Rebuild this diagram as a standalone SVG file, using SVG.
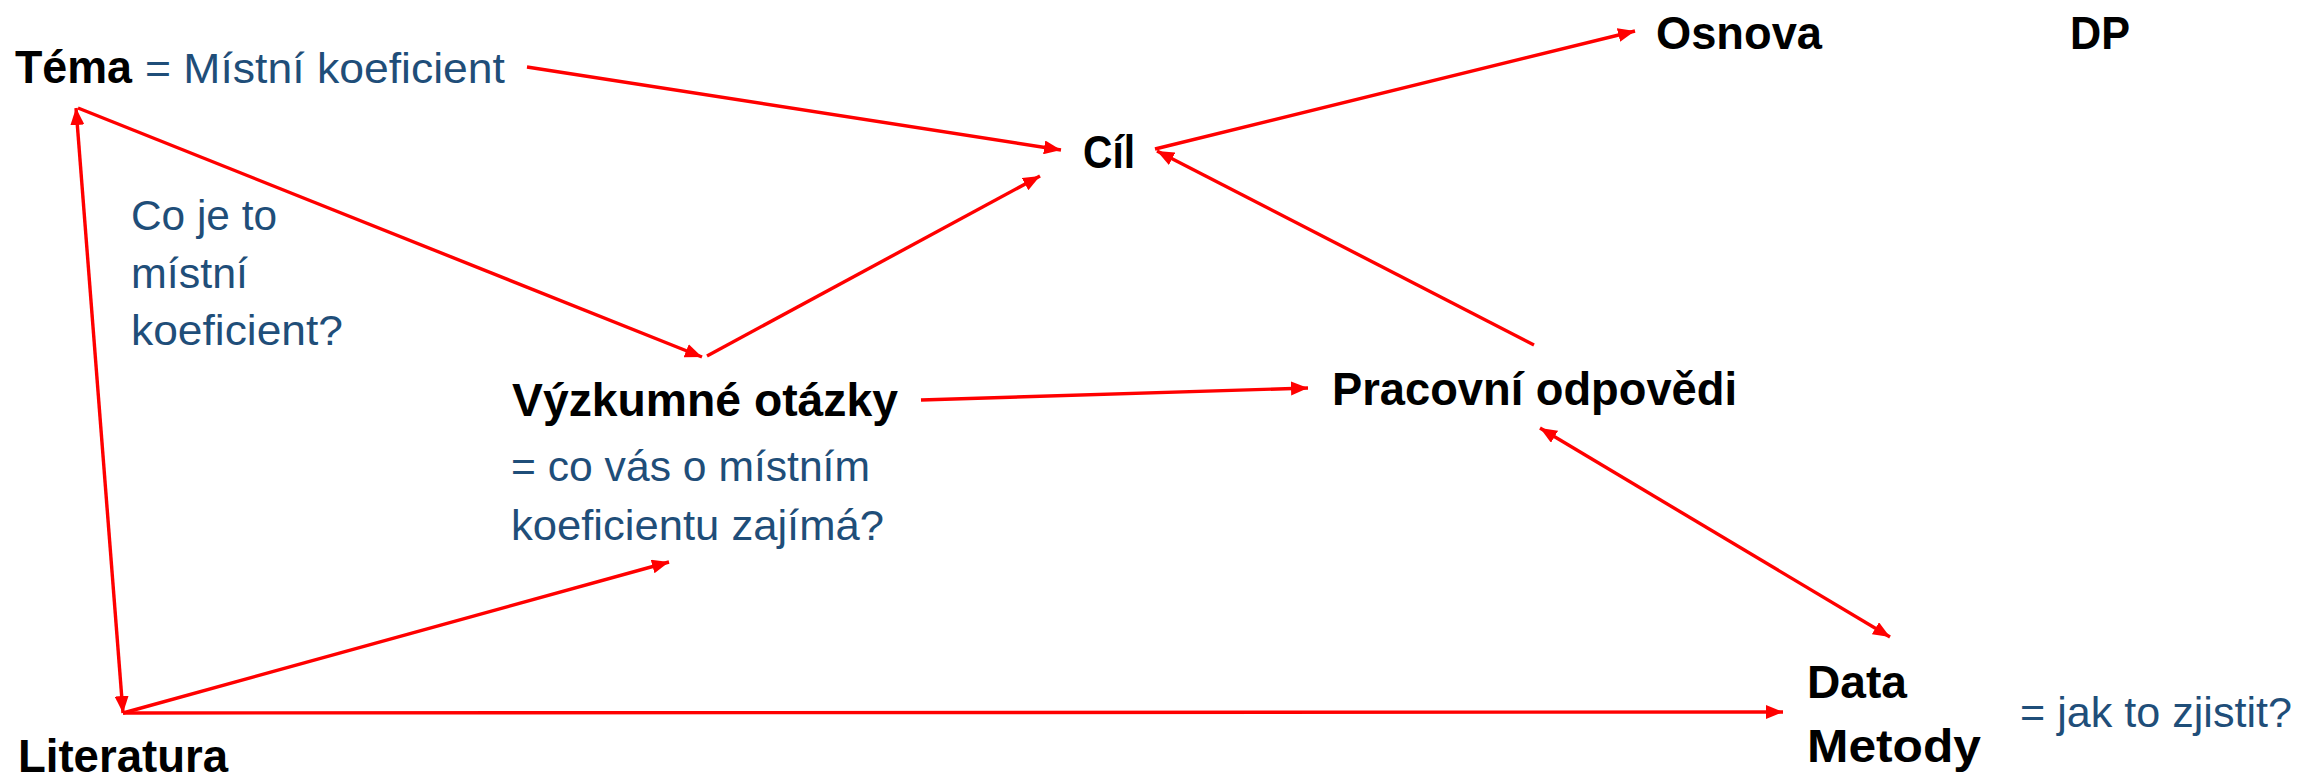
<svg xmlns="http://www.w3.org/2000/svg" width="2302" height="779" viewBox="0 0 2302 779">
<style>
.b{font-family:"Liberation Sans",Arial,sans-serif;font-weight:bold;font-size:46px;fill:#000}
.r{font-family:"Liberation Sans",Arial,sans-serif;font-size:43px;fill:#1F4E79}
.c{stroke:#FF0000;stroke-width:3.4;fill:none;marker-end:url(#ah)}
.d{marker-start:url(#ah)}
</style>
<defs>
<marker id="ah" markerUnits="userSpaceOnUse" markerWidth="18" markerHeight="14" refX="17" refY="7" orient="auto-start-reverse">
<path d="M0,0 L17,7 L0,14 z" fill="#FF0000"/>
</marker>
</defs>
<rect width="2302" height="779" fill="#fff"/>
<g id="connectors">
<line class="c" x1="527" y1="67" x2="1061" y2="150"/>
<line class="c" x1="1155" y1="149" x2="1635" y2="31"/>
<line class="c" x1="1534" y1="345" x2="1157" y2="151"/>
<line class="c" x1="707" y1="356" x2="1040" y2="176"/>
<line class="c" x1="78" y1="108" x2="702" y2="357"/>
<line class="c d" x1="76" y1="108" x2="123" y2="713"/>
<line class="c" x1="123" y1="713" x2="669" y2="562"/>
<line class="c" x1="123" y1="713" x2="1783" y2="712"/>
<line class="c" x1="921" y1="400" x2="1308" y2="388"/>
<line class="c d" x1="1540" y1="428" x2="1890" y2="637"/>
</g>
<g id="tema">
<text class="b" x="15" y="83" textLength="117" lengthAdjust="spacingAndGlyphs">Téma</text>
<text class="r" x="145" y="83" textLength="360" lengthAdjust="spacingAndGlyphs">= Místní koeficient</text>
</g>
<g id="cil"><text class="b" x="1083" y="168" textLength="52" lengthAdjust="spacingAndGlyphs">Cíl</text></g>
<g id="osnova"><text class="b" x="1656" y="49" textLength="166" lengthAdjust="spacingAndGlyphs">Osnova</text></g>
<g id="dp"><text class="b" x="2070" y="49" textLength="60" lengthAdjust="spacingAndGlyphs">DP</text></g>
<g id="otazka">
<text class="r" x="131" y="230" textLength="146" lengthAdjust="spacingAndGlyphs">Co je to</text>
<text class="r" x="131" y="288" textLength="117" lengthAdjust="spacingAndGlyphs">místní</text>
<text class="r" x="131" y="345" textLength="212" lengthAdjust="spacingAndGlyphs">koeficient?</text>
</g>
<g id="vyzkumne">
<text class="b" x="512" y="416" textLength="386" lengthAdjust="spacingAndGlyphs">Výzkumné otázky</text>
<text class="r" x="511" y="481" textLength="359" lengthAdjust="spacingAndGlyphs">= co vás o místním</text>
<text class="r" x="511" y="540" textLength="373" lengthAdjust="spacingAndGlyphs">koeficientu zajímá?</text>
</g>
<g id="pracovni"><text class="b" x="1332" y="405" textLength="405" lengthAdjust="spacingAndGlyphs">Pracovní odpovědi</text></g>
<g id="literatura"><text class="b" x="18" y="772" textLength="210" lengthAdjust="spacingAndGlyphs">Literatura</text></g>
<g id="data">
<text class="b" x="1807" y="698" textLength="100" lengthAdjust="spacingAndGlyphs">Data</text>
<text class="b" x="1807" y="762" textLength="174" lengthAdjust="spacingAndGlyphs">Metody</text>
<text class="r" x="2020" y="727" textLength="272" lengthAdjust="spacingAndGlyphs">= jak to zjistit?</text>
</g>
</svg>
